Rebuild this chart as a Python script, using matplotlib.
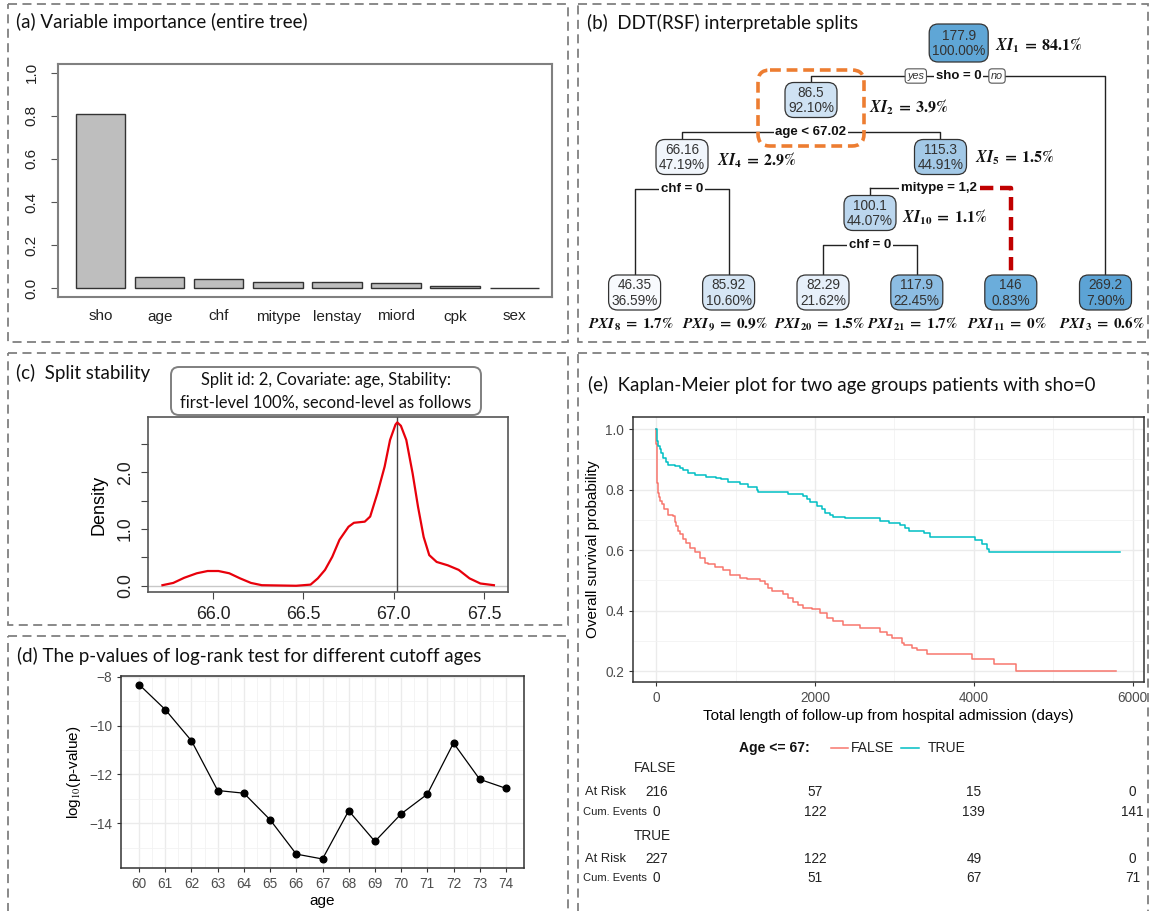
import numpy as np
import matplotlib.pyplot as plt
import matplotlib.transforms as mtransforms
from matplotlib.patches import FancyBboxPatch, Rectangle

W, H = 1151, 911
plt.rcParams['font.family'] = ['Liberation Sans', 'DejaVu Sans']
plt.rcParams['mathtext.fontset'] = 'stix'

# (a) variable importance
vi_names = ['sho', 'age', 'chf', 'mitype', 'lenstay', 'miord', 'cpk', 'sex']
vi_values = [0.81, 0.055, 0.043, 0.03, 0.03, 0.027, 0.013, 0.004]

# (b) tree
node_val = {1: '177.9', 2: '86.5', 3: '269.2', 4: '66.16', 5: '115.3', 8: '46.35',
            9: '85.92', 10: '100.1', 11: '146', 20: '82.29', 21: '117.9'}
node_pct = {1: '100.00%', 2: '92.10%', 3: '7.90%', 4: '47.19%', 5: '44.91%', 8: '36.59%',
            9: '10.60%', 10: '44.07%', 11: '0.83%', 20: '21.62%', 21: '22.45%'}
split_text = {1: 'sho = 0', 2: 'age < 67.02', 4: 'chf = 0', 5: 'mitype = 1,2', 10: 'chf = 0'}
children = {1: (2, 3), 2: (4, 5), 4: (8, 9), 5: (10, 11), 10: (20, 21)}
xi_inner = {1: '84.1', 2: '3.9', 4: '2.9', 5: '1.5', 10: '1.1'}
leaves = [8, 9, 20, 21, 11, 3]
pxi_leaf = {8: '1.7', 9: '0.9', 20: '1.5', 21: '1.7', 11: '0', 3: '0.6'}

# (c) split stability density
dens_x = [65.72, 65.78, 65.84, 65.91, 65.97, 66.03, 66.09, 66.15, 66.21, 66.27, 66.46, 66.54,
          66.58, 66.62, 66.66, 66.70, 66.75, 66.78, 66.84, 66.87, 66.91, 66.95, 66.98, 67.01,
          67.02, 67.04, 67.07, 67.105, 67.135, 67.166, 67.197, 67.238, 67.30, 67.36, 67.42,
          67.48, 67.555]
dens_y = [0.01, 0.05, 0.14, 0.22, 0.26, 0.26, 0.22, 0.13, 0.05, 0.01, 0.0, 0.02,
          0.13, 0.28, 0.51, 0.81, 1.04, 1.11, 1.13, 1.22, 1.63, 2.10, 2.57, 2.84,
          2.88, 2.82, 2.57, 1.98, 1.39, 0.86, 0.54, 0.42, 0.36, 0.28, 0.13,
          0.04, 0.01]
mode_val = 67.02

# (d) log-rank p-values
ages = list(range(60, 75))
logp = [-8.31, -9.34, -10.62, -12.66, -12.77, -13.86, -15.27, -15.47, -13.49, -14.75,
        -13.62, -12.81, -10.71, -12.20, -12.57]

# (e) Kaplan-Meier
km_true_t = [0, 5, 21, 42, 63, 84, 118, 147, 232, 295, 337, 400, 484, 632, 758, 821, 905,
             1053, 1158, 1263, 1284, 1663, 1852, 1895, 1937, 2021, 2084, 2126, 2189, 2231,
             2379, 2821, 2925, 3073, 3136, 3178, 3368, 3452, 4020, 4105, 4168, 4189, 5843]
km_true_s = [1.0, 0.96, 0.945, 0.934, 0.92, 0.906, 0.89, 0.88, 0.878, 0.872, 0.865, 0.856,
             0.848, 0.843, 0.84, 0.835, 0.826, 0.818, 0.81, 0.80, 0.792, 0.785, 0.78, 0.768,
             0.759, 0.746, 0.735, 0.724, 0.715, 0.708, 0.705, 0.696, 0.691, 0.683, 0.674,
             0.663, 0.655, 0.644, 0.633, 0.619, 0.603, 0.594, 0.594]
km_false_t = [0, 2, 5, 8, 13, 21, 34, 51, 72, 97, 147, 211, 232, 253, 274, 295, 337, 379,
              421, 484, 547, 610, 653, 737, 842, 926, 1053, 1137, 1305, 1368, 1410, 1452,
              1600, 1663, 1726, 1789, 1852, 1958, 2063, 2147, 2231, 2358, 2568, 2821, 2905,
              2968, 3094, 3115, 3220, 3284, 3410, 3978, 4251, 4525, 5788]
km_false_s = [1.0, 0.95, 0.9, 0.86, 0.823, 0.79, 0.774, 0.763, 0.752, 0.735, 0.716, 0.713,
              0.693, 0.68, 0.663, 0.652, 0.636, 0.625, 0.608, 0.594, 0.575, 0.559, 0.553,
              0.545, 0.534, 0.517, 0.509, 0.503, 0.498, 0.487, 0.476, 0.465, 0.454, 0.443,
              0.428, 0.417, 0.41, 0.404, 0.393, 0.376, 0.365, 0.352, 0.343, 0.329, 0.318,
              0.31, 0.294, 0.286, 0.278, 0.269, 0.256, 0.24, 0.223, 0.2, 0.2]
risk_times = [0, 2000, 4000, 6000]
false_at_risk = [216, 57, 15, 0]
false_events = [0, 122, 139, 141]
true_at_risk = [227, 122, 49, 0]
true_events = [0, 51, 67, 71]

RED = '#F8766D'
TEAL = '#00BFC4'

fig = plt.figure(figsize=(W / 100, H / 100), dpi=100)
bg = fig.add_axes([0, 0, 1, 1])
bg.set_xlim(0, W)
bg.set_ylim(H, 0)
bg.axis('off')


def px_axes(x0, y0, x1, y1):
    return fig.add_axes([x0 / W, 1 - y1 / H, (x1 - x0) / W, (y1 - y0) / H])


# panel borders
for x0, y0, x1, y1 in [(8, 4, 568, 342), (578, 4, 1148, 342), (8, 353, 568, 625),
                       (8, 636, 568, 915), (578, 353, 1148, 915)]:
    bg.add_patch(Rectangle((x0, y0), x1 - x0, y1 - y0, fill=False, ec='#808080',
                           lw=1.3, ls=(0, (5, 3))))

tfont = dict(family=['Lato', 'DejaVu Sans'], fontsize=13.5, va='center', color='#111111')
bg.text(16, 22, '(a) Variable importance (entire tree)', **tfont)
bg.text(587, 23, '(b)  DDT(RSF) interpretable splits', **tfont)
bg.text(16, 373, '(c)  Split stability', **tfont)
bg.text(17, 656, '(d) The p-values of log-rank test for different cutoff ages', **tfont)
bg.text(588, 385, '(e)  Kaplan-Meier plot for two age groups patients with sho=0', **tfont)

# ---------------- (a)
ax_a = px_axes(58, 64, 552, 297)
xpos = 0.7 + 1.2 * np.arange(len(vi_names))
ax_a.bar(xpos, vi_values, width=1.0, color='#BEBEBE', edgecolor='#333333', lw=1)
ax_a.set_xlim(-0.17, 9.87)
ax_a.set_ylim(-0.04, 1.04)
ax_a.set_xticks(xpos, vi_names)
ax_a.set_yticks([0, 0.2, 0.4, 0.6, 0.8, 1.0])
ax_a.set_yticklabels(['0.0', '0.2', '0.4', '0.6', '0.8', '1.0'], rotation=90, va='center')
ax_a.tick_params(axis='x', length=0, pad=9, labelsize=11, labelcolor='#222222')
ax_a.tick_params(axis='y', length=5, pad=9, labelsize=11, labelcolor='#222222', color='#555555')
for s in ax_a.spines.values():
    s.set_color('#808080')
    s.set_linewidth(1.5)

# ---------------- (b) tree
pos = {1: (958.7, 43), 2: (811, 100), 4: (682, 157), 5: (940.5, 157), 10: (870, 213),
       8: (634.6, 292.5), 9: (728.6, 292.5), 20: (823, 292.5), 21: (916.8, 292.5),
       11: (1010.8, 292.5), 3: (1105.5, 292.5)}
split_y = {1: 76, 2: 132, 4: 189, 5: 188, 10: 245}
node_col = {1: '#5FA6D6', 2: '#CFE2F3', 4: '#F1F6FC', 5: '#A3C9E7', 10: '#BBD6EE',
            8: '#F8FAFD', 9: '#D6E6F5', 20: '#E7F0FA', 21: '#8CBDE3', 11: '#6BADDB',
            3: '#5CA3D5'}
box_h = {n: 35 for n in pos}
box_h[1] = 38
box_w = {n: 52 for n in pos}
box_w[1] = 59

for p, (l, r) in children.items():
    y = split_y[p]
    lx, rx = pos[l][0], pos[r][0]
    if p == 5:
        bg.plot([lx, pos[p][0]], [y, y], color='#222222', lw=1, zorder=2)
        bg.plot([lx, lx], [y, pos[l][1] - box_h[l] / 2], color='#222222', lw=1, zorder=2)
        bg.plot([pos[p][0], rx, rx], [y, y, pos[r][1] - box_h[r] / 2], color='#C00000',
                lw=3.2, ls=(0, (3, 1.5)), zorder=2)
    else:
        bg.plot([lx, lx, rx, rx], [pos[l][1] - box_h[l] / 2, y, y, pos[r][1] - box_h[r] / 2],
                color='#222222', lw=1, zorder=2)
    bg.text(pos[p][0] - (2 if p == 5 else 0), y, split_text[p], fontsize=9.5, weight='bold',
            ha='center', va='center', color='#111111', zorder=4,
            bbox=dict(boxstyle='square,pad=0.12', fc='white', ec='none'))

# yes / no labels
for lx, txt in [(915.8, 'yes'), (997, 'no')]:
    bg.text(lx, 76, txt, fontsize=7.8, style='italic', ha='center', va='center',
            color='#333333', zorder=5,
            bbox=dict(boxstyle='round,pad=0.2,rounding_size=0.3', fc='white', ec='#555555', lw=0.8))

for n, (x, y) in pos.items():
    w, h = box_w[n], box_h[n]
    bg.add_patch(FancyBboxPatch((x - w / 2 + 6, y - h / 2 + 6), w - 12, h - 12,
                                boxstyle='round,pad=6,rounding_size=9', fc=node_col[n],
                                ec='#333333', lw=0.9, zorder=3))
    bg.text(x, y + 0.5, node_val[n] + '\n' + node_pct[n], fontsize=9.8, ha='center', va='center',
            color='#333333', linespacing=1.1, zorder=4)

xi_pos = {1: (995, 45), 2: (869.5, 107), 4: (716.6, 160), 5: (975, 157), 10: (902, 217)}
for n, (x, y) in xi_pos.items():
    bg.text(x, y, r'$\mathbfit{XI}_{\mathbf{%d}}\;\mathbf{=}\;\mathbf{%s\%%}$' % (n, xi_inner[n]),
            fontsize=11.5, ha='left', va='center', color='#111111')
for n in leaves:
    bg.text(pos[n][0] - 4, 324, r'$\mathbfit{PXI}_{\mathbf{%d}}\;\mathbf{=}\;\mathbf{%s\%%}$'
            % (n, pxi_leaf[n]), fontsize=11, ha='center', va='center', color='#111111')

# highlight box around split 2
bg.add_patch(FancyBboxPatch((766, 78), 90, 60, boxstyle='round,pad=8,rounding_size=12',
                            fill=False, ec='#ED7D31', lw=2.6, ls=(0, (3, 1.6)), zorder=6))

# ---------------- (c)
ax_c = px_axes(148, 417, 508, 592)
ax_c.axhline(0, color='#C8C8C8', lw=1)
ax_c.axvline(mode_val, color='#444444', lw=1)
ax_c.plot(dens_x, dens_y, color='#E8000B', lw=1.6)
ax_c.set_xlim(65.64, 67.633)
ax_c.set_ylim(-0.11, 2.975)
ax_c.set_xticks([66.0, 66.5, 67.0, 67.5], ['66.0', '66.5', '67.0', '67.5'])
ax_c.set_yticks([0, 0.5, 1.0, 1.5, 2.0, 2.5])
ax_c.set_yticklabels(['0.0', '', '1.0', '', '2.0', ''], rotation=90, va='center')
ax_c.tick_params(length=5, labelsize=12.8, pad=5, color='#444444', labelcolor='#222222')
ax_c.set_ylabel('Density', fontsize=13, labelpad=7)
for s in ax_c.spines.values():
    s.set_color('#555555')
    s.set_linewidth(1.2)
bg.text(180, 439, 'Mode = 67.02', fontsize=13, va='center', color='#111111')
bg.add_patch(FancyBboxPatch((177, 373), 298, 36, boxstyle='round,pad=6,rounding_size=8',
                            fc='white', ec='#7F7F7F', lw=1.4, zorder=5))
bg.text(326, 391, 'Split id: 2, Covariate: age, Stability:\nfirst-level 100%, second-level as follows',
        family=['Lato', 'DejaVu Sans'], fontsize=11.9, ha='center', va='center',
        linespacing=1.5, color='#111111', zorder=6)


def gg_style(ax):
    ax.grid(True, which='major', color='#EBEBEB', lw=1.0)
    ax.grid(True, which='minor', color='#F2F2F2', lw=0.6)
    ax.set_axisbelow(True)
    ax.tick_params(which='major', length=3, color='#333333', labelcolor='#4D4D4D', labelsize=9.8)
    ax.tick_params(which='minor', length=0)
    for s in ax.spines.values():
        s.set_color('#333333')
        s.set_linewidth(1.1)


# ---------------- (d)
ax_d = px_axes(121, 676, 524, 868)
gg_style(ax_d)
ax_d.plot(ages, logp, color='black', lw=0.9, marker='o', ms=4.8)
ax_d.set_xlim(59.31, 74.69)
ax_d.set_ylim(-15.84, -7.96)
ax_d.set_xticks(ages)
ax_d.set_xticks([a + 0.5 for a in ages[:-1]], minor=True)
ax_d.set_yticks([-14, -12, -10, -8])
ax_d.set_yticks([-15, -13, -11, -9], minor=True)
ax_d.set_xlabel('age', fontsize=11, labelpad=2)
ax_d.set_ylabel(r'log$_{10}$(p-value)', fontsize=11, labelpad=4)

# ---------------- (e)
ax_e = px_axes(633, 417, 1144, 682)
gg_style(ax_e)
ax_e.step(km_false_t, km_false_s, where='post', color=RED, lw=1.1)
ax_e.step(km_true_t, km_true_s, where='post', color=TEAL, lw=1.1)
ax_e.set_xlim(-293, 6143)
ax_e.set_ylim(0.164, 1.04)
ax_e.set_xticks(risk_times)
ax_e.set_xticks([1000, 3000, 5000], minor=True)
ax_e.set_yticks([0.2, 0.4, 0.6, 0.8, 1.0])
ax_e.set_yticks([0.3, 0.5, 0.7, 0.9], minor=True)
ax_e.set_xlabel('Total length of follow-up from hospital admission (days)', fontsize=11, labelpad=3)
ax_e.set_ylabel('Overall survival probability', fontsize=11, labelpad=4)

# legend
bg.text(739, 748, 'Age <= 67:', fontsize=10, weight='bold', va='center', color='#111111')
bg.plot([831, 848], [748, 748], color=RED, lw=1.1)
bg.text(851, 748, 'FALSE', fontsize=10, va='center', color='#222222')
bg.plot([901, 919], [748, 748], color=TEAL, lw=1.1)
bg.text(928, 748, 'TRUE', fontsize=10, va='center', color='#222222')

# risk table
tr = mtransforms.blended_transform_factory(ax_e.transData, bg.transData)
rows = [('FALSE', 768, 792, 812, false_at_risk, false_events),
        ('TRUE', 836, 859, 878, true_at_risk, true_events)]
for grp, yg, yr, ye, risk, ev in rows:
    bg.text(634, yg, grp, fontsize=9.8, va='center', color='#222222')
    bg.text(585, yr, 'At Risk', fontsize=9.3, va='center', color='#222222')
    bg.text(583, ye, 'Cum. Events', fontsize=8.0, va='center', color='#222222')
    for t, a, e in zip(risk_times, risk, ev):
        ax_e.text(t, yr, str(a), transform=tr, fontsize=9.8, ha='center', va='center', color='#222222')
        ax_e.text(t, ye, str(e), transform=tr, fontsize=9.8, ha='center', va='center', color='#222222')

fig.savefig('out.png', dpi=100)
